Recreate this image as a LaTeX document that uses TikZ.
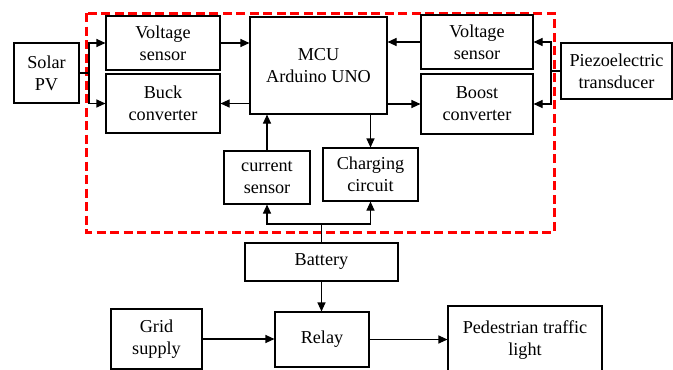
\documentclass[tikz,border=0pt]{standalone}
\usepackage{fontspec}
\setmainfont{Liberation Serif}
\usetikzlibrary{arrows.meta}
\begin{document}
\begin{tikzpicture}[x=1pt,y=-1pt,
  box/.style={draw=black, line width=1.1pt, align=center, inner sep=0pt,
    font=\fontsize{18.2}{21.8}\selectfont},
  conn/.style={line width=1.1pt, draw=black},
  arr/.style={conn, -{Triangle[length=9pt,width=8pt]}},
  redbox/.style={draw={rgb,255:red,255;green,0;blue,0}, line width=3pt, dash pattern=on 9pt off 4.5pt}
]
\useasboundingbox (0,0) rectangle (673,370);
\clip (0,0) rectangle (673,370);
\fill[white] (0,0) rectangle (673,370);

% red dashed boundary
\draw[redbox] (86,13) rectangle (554,232);

% nodes
\node[box, minimum width=65pt, minimum height=60pt] (solar) at (46.5,73) {Solar\\PV};
\node[box, minimum width=114pt, minimum height=54pt] (vsL) at (163,43) {Voltage\\sensor};
\node[box, minimum width=114pt, minimum height=59pt] (buck) at (163,103.5) {Buck\\converter};
\node[box, minimum width=137pt, minimum height=97pt] (mcu) at (318.5,65.5) {MCU\\Arduino UNO};
\node[box, minimum width=86pt, minimum height=53pt] (cur) at (267,177.5) {current\\sensor};
\node[box, minimum width=95pt, minimum height=53pt] (chg) at (370.5,174.5) {Charging\\circuit};
\node[box, minimum width=112pt, minimum height=54pt] (vsR) at (477,42) {Voltage\\sensor};
\node[box, minimum width=112pt, minimum height=60pt] (boost) at (477,104) {Boost\\converter};
\node[box, minimum width=111pt, minimum height=56pt] (piezo) at (616.5,71) {Piezoelectric\\transducer};
\node[box, minimum width=153pt, minimum height=38pt] (bat) at (321.5,262) {Battery};
\node[box, minimum width=91pt, minimum height=60pt] (grid) at (156.5,339) {Grid\\supply};
\node[box, minimum width=94pt, minimum height=55pt] (relay) at (322,339.5) {Relay};
\node[box, minimum width=154pt, minimum height=68pt] (ped) at (525,340) {Pedestrian traffic\\light};

% junction coordinates
\coordinate (sb) at (89,73);
\coordinate (pb) at (551,71);
\coordinate (bj) at (321.5,224);

% solar side
\draw[conn] (solar.east) -- (sb);
\draw[arr] (sb) |- (vsL.west);
\draw[arr] (sb) |- (buck.west);
\draw[arr] (vsL.east) -- (vsL.east -| mcu.west);
\draw[arr] (mcu.west |- buck.east) -- (buck.east);

% piezo side
\draw[conn] (piezo.west) -- (pb);
\draw[arr] (pb) |- (vsR.east);
\draw[arr] (pb) |- (boost.east);
\draw[arr] (vsR.west) -- (vsR.west -| mcu.east);
\draw[arr] (mcu.east |- boost.west) -- (boost.west);

% middle
\draw[arr] (cur.north) -- (cur.north |- mcu.south);
\draw[arr] (chg.north |- mcu.south) -- (chg.north);
\draw[conn] (bat.north) -- (bj);
\draw[arr] (bj) -| (cur.south);
\draw[arr] (bj) -| (chg.south);

% bottom
\draw[arr] (bat.south) -- (bat.south |- relay.north);
\draw[arr] (grid.east) -- (grid.east -| relay.west);
\draw[arr] (relay.east) -- (relay.east -| ped.west);
\end{tikzpicture}
\end{document}
